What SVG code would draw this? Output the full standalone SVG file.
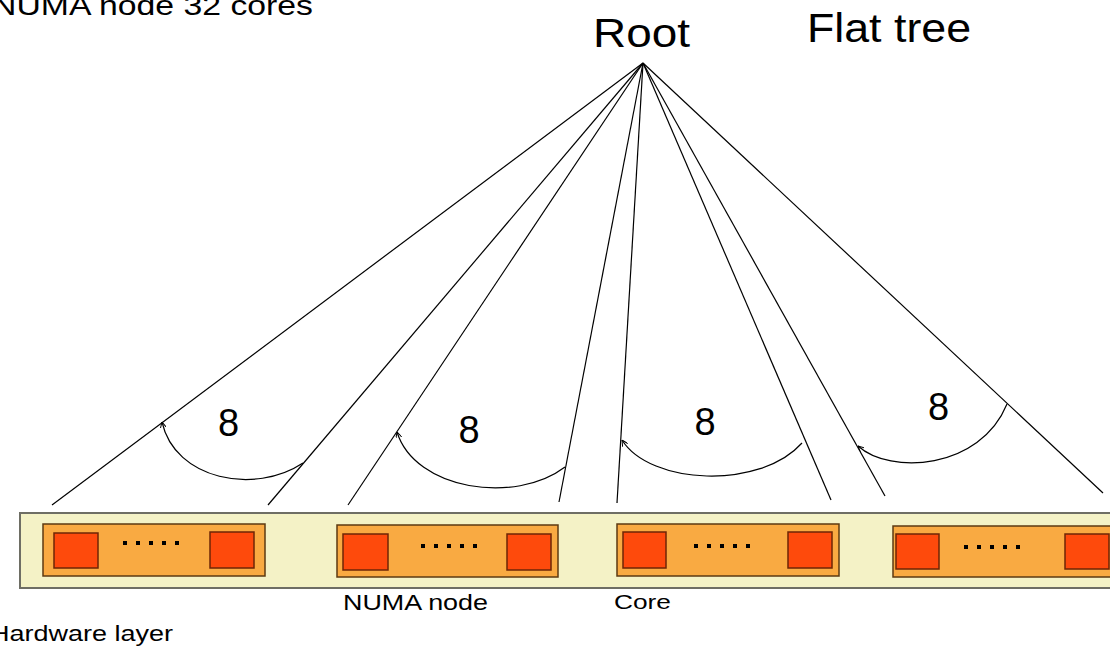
<svg xmlns="http://www.w3.org/2000/svg" width="1110" height="649" viewBox="0 0 1110 649">
  <style>
    .txt { font-family: "Liberation Sans", Arial, sans-serif; fill: #000; }
    .edge { stroke: #000; stroke-width: 1.2; fill: none; }
    .span { stroke: #000; stroke-width: 1.2; fill: none; marker-start: url(#tick); }
    .layer { fill: #F4F2C6; stroke: #6E6E64; stroke-width: 2; }
    .numa { fill: #F9AA42; stroke: #5C3A12; stroke-width: 1.5; }
    .core { fill: #FE4A0C; stroke: #6E2606; stroke-width: 1.5; }
    .dot { fill: #000; }
  </style>
  <defs>
    <marker id="tick" viewBox="0 0 6 6" refX="6" refY="3" markerWidth="6" markerHeight="6" markerUnits="userSpaceOnUse" orient="auto-start-reverse">
      <path d="M0,0 L6,3 L0,6" fill="none" stroke="#000" stroke-width="1"/>
    </marker>
    <!-- five small squares between the first and last core -->
    <g id="dots">
      <rect class="dot" x="0" y="-2" width="4" height="4"/>
      <rect class="dot" x="13" y="-2" width="4" height="4"/>
      <rect class="dot" x="26" y="-2" width="4" height="4"/>
      <rect class="dot" x="39" y="-2" width="4" height="4"/>
      <rect class="dot" x="52" y="-2" width="4" height="4"/>
    </g>
  </defs>

  <rect width="1110" height="649" fill="#fff"/>

  <g id="title">
    <text class="txt" x="-8" y="15" font-size="28" textLength="321" lengthAdjust="spacingAndGlyphs">NUMA node 32 cores</text>
  </g>
  <g id="flat-tree-label">
    <text class="txt" x="807" y="42" font-size="40" textLength="164" lengthAdjust="spacingAndGlyphs">Flat tree</text>
  </g>
  <g id="root">
    <text class="txt" x="593" y="47" font-size="40" textLength="97" lengthAdjust="spacingAndGlyphs">Root</text>
  </g>

  <!-- hardware layer with four NUMA nodes -->
  <g id="hardware-layer">
    <rect class="layer" x="20" y="513" width="1110" height="75"/>
    <text class="txt" x="-10" y="641" font-size="22" textLength="183" lengthAdjust="spacingAndGlyphs">Hardware layer</text>
  </g>

  <g id="numa-1">
    <rect class="numa" x="43" y="524" width="222" height="52"/>
    <rect class="core" x="54" y="533" width="44" height="35"/>
    <rect class="core" x="210" y="532" width="44" height="36"/>
    <use href="#dots" x="123" y="543"/>
  </g>
  <g id="numa-2">
    <rect class="numa" x="337" y="525" width="221" height="52"/>
    <rect class="core" x="343" y="534" width="45" height="36"/>
    <rect class="core" x="507" y="534" width="44" height="36"/>
    <use href="#dots" x="421" y="546"/>
    <text class="txt" x="343" y="610" font-size="22" textLength="145" lengthAdjust="spacingAndGlyphs">NUMA node</text>
  </g>
  <g id="numa-3">
    <rect class="numa" x="617" y="524" width="222" height="52"/>
    <rect class="core" x="623" y="532" width="43" height="36"/>
    <rect class="core" x="788" y="532" width="44" height="36"/>
    <use href="#dots" x="694" y="546"/>
    <text class="txt" x="614" y="609" font-size="20" textLength="57" lengthAdjust="spacingAndGlyphs">Core</text>
  </g>
  <g id="numa-4">
    <rect class="numa" x="893" y="526" width="230" height="51"/>
    <rect class="core" x="896" y="534" width="43" height="35"/>
    <rect class="core" x="1065" y="534" width="44" height="35"/>
    <use href="#dots" x="964" y="547"/>
  </g>

  <g id="degree-labels">
    <text class="txt" x="228.5" y="436" font-size="38" text-anchor="middle">8</text>
    <text class="txt" x="469" y="443" font-size="38" text-anchor="middle">8</text>
    <text class="txt" x="705" y="435" font-size="38" text-anchor="middle">8</text>
    <text class="txt" x="938.5" y="420" font-size="38" text-anchor="middle">8</text>
  </g>

  <g id="connectors">
    <line class="edge" x1="643" y1="63" x2="52" y2="505"/>
    <line class="edge" x1="643" y1="63" x2="268" y2="505"/>
    <line class="edge" x1="643" y1="63" x2="348" y2="505"/>
    <line class="edge" x1="643" y1="63" x2="559" y2="502"/>
    <line class="edge" x1="643" y1="63" x2="617" y2="503"/>
    <line class="edge" x1="643" y1="63" x2="831" y2="500"/>
    <line class="edge" x1="643" y1="63" x2="885" y2="496"/>
    <line class="edge" x1="643" y1="63" x2="1103" y2="493"/>
    <path class="span" d="M162,422 C175,480 255,495 303,463"/>
    <path class="span" d="M397,432 C415,490 515,505 565,467"/>
    <path class="span" d="M622,440 C650,485 760,490 802,443"/>
    <path class="span" d="M858,446 C890,475 980,470 1007,404"/>
  </g>
</svg>
